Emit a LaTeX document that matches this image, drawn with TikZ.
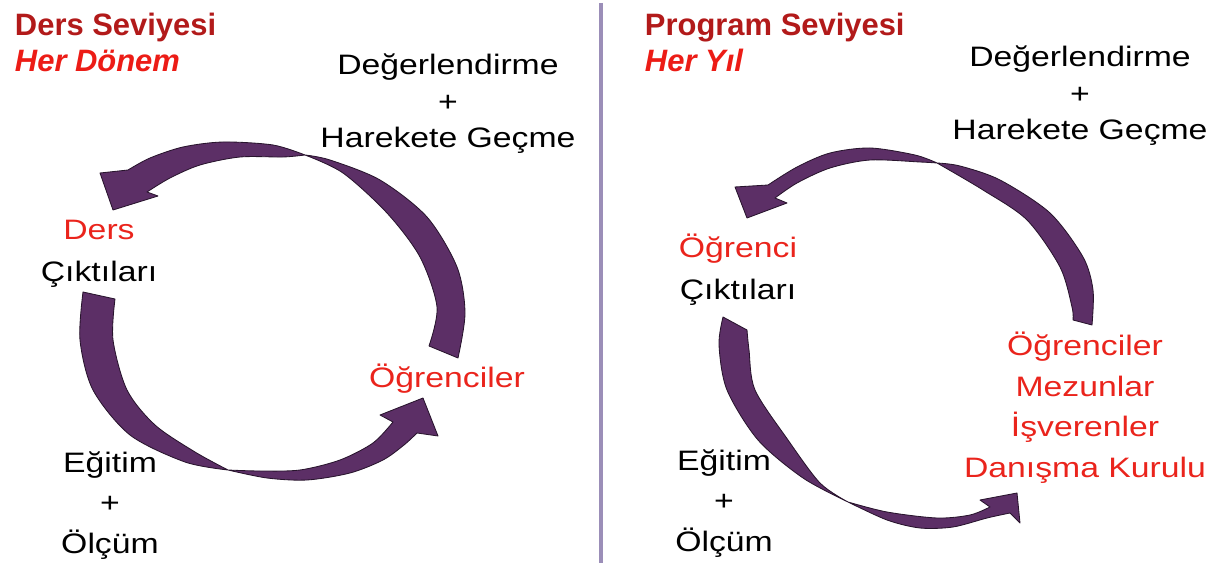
\documentclass[tikz,border=0pt]{standalone}
\usepackage{fontspec}
\setmainfont{Liberation Sans}
\newfontfamily\bodyfont{Liberation Sans}[FakeStretch=1.2]
\usepackage{xcolor}
\usepackage{tikz}
\definecolor{titledark}{RGB}{178,26,26}
\definecolor{titlered}{RGB}{236,28,22}
\definecolor{textred}{RGB}{234,36,28}
\definecolor{bandfill}{RGB}{92,47,102}
\definecolor{bandline}{RGB}{40,20,45}
\definecolor{divider}{RGB}{155,142,184}

\begin{document}
\begin{tikzpicture}[
  x=0.025cm, y=-0.025cm,
  heading/.style={anchor=base west, align=left,
                  font=\fontsize{22}{26.3}\selectfont\bfseries},
  txt/.style={anchor=base, align=center, inner sep=0pt,
              font=\bodyfont\fontsize{20}{28.8}\selectfont},
  band/.style={fill=bandfill, draw=bandline, line width=0.6pt, line join=round},
  sep/.style={draw=divider, line width=2.2pt}
]
\useasboundingbox (0,0) rectangle (1217,563);

% Divider
\draw[sep] (601,3) -- (601,563);

% Left panel (base = last line)
\node[heading] (dershead) at (10,72)
      {\textcolor{titledark}{Ders Seviyesi}\\\textcolor{titlered}{\itshape Her Dönem}};
\node[txt, font=\bodyfont\fontsize{20}{26}\selectfont] (degleft) at (448,148)
      {Değerlendirme\\+\\Harekete Geçme};
\node[txt, font=\bodyfont\fontsize{20}{29.9}\selectfont] (dersout) at (99,282)
      {\textcolor{textred}{Ders}\\Çıktıları};
\node[txt, text=textred] (ogrleft) at (447,388) {Öğrenciler};
\node[txt] (egitleft) at (110,553) {Eğitim\\+\\Ölçüm};

% Right panel
\node[heading] (proghead) at (640,72)
      {\textcolor{titledark}{Program Seviyesi}\\\textcolor{titlered}{\itshape Her Yıl}};
\node[txt, font=\bodyfont\fontsize{20}{26}\selectfont] (degright) at (1080,140)
      {Değerlendirme\\+\\Harekete Geçme};
\node[txt, font=\bodyfont\fontsize{20}{29.9}\selectfont] (ogrout) at (738,300)
      {\textcolor{textred}{Öğrenci}\\Çıktıları};
\node[txt, text=textred] (paydas) at (1085,477)
      {Öğrenciler\\Mezunlar\\İşverenler\\Danışma Kurulu};
\node[txt] (egitright) at (724,551) {Eğitim\\+\\Ölçüm};

% Left cycle arrows
\filldraw[band] plot[smooth] coordinates {(458,358) (465,313) (457,267) (427,217) (380,180) (330,160) (305,155)}
  -- plot[smooth] coordinates {(305,155) (283,157) (240,157) (200,165) (170,178) (147,192)}
  -- (158,196) -- (113,210) -- (100,173) -- (128,170)
  -- plot[smooth] coordinates {(128,170) (150,158) (183,147) (223,142) (273,145) (305,155)}
  -- plot[smooth] coordinates {(305,155) (343,173) (387,213) (420,257) (437,307) (429,346)}
  -- cycle;
\filldraw[band] plot[smooth] coordinates {(83,292) (80,340) (93,390) (130,435) (185,462) (228,470)}
  -- plot[smooth] coordinates {(228,470) (267,478) (307,480) (350,473) (383,460) (404,445) (417,433)}
  -- (438,436) -- (423,398) -- (380,415) -- (393,422)
  -- plot[smooth] coordinates {(393,422) (373,443) (340,460) (300,470) (260,471) (228,470)}
  -- plot[smooth] coordinates {(228,470) (195,452) (155,425) (127,390) (113,340) (115,299)}
  -- cycle;

% Right cycle arrows
\filldraw[band] plot[smooth] coordinates {(1092,325) (1093,290) (1083,257) (1050,213) (1000,180) (960,166) (937,163)}
  -- plot[smooth] coordinates {(937,163) (920,162) (870,160) (830,168) (797,183) (775,198)}
  -- (787,203) -- (747,218) -- (735,187) -- (768,185)
  -- plot[smooth] coordinates {(768,185) (797,167) (830,153) (870,148) (915,155) (937,163)}
  -- plot[smooth] coordinates {(937,163) (983,190) (1027,220) (1060,267) (1072,307) (1073,320)}
  -- cycle;
\filldraw[band] plot[smooth] coordinates {(723,317) (719,345) (727,390) (758,440) (803,478) (848,502)}
  -- plot[smooth] coordinates {(848,502) (887,520) (920,528) (953,527) (987,518) (1010,513)}
  -- (1020,523) -- (1017,493) -- (980,500) -- (990,507)
  -- plot[smooth] coordinates {(990,507) (970,515) (937,518) (887,512) (848,502)}
  -- plot[smooth] coordinates {(848,502) (820,483) (788,440) (755,390) (749,350) (747,330)}
  -- cycle;
\end{tikzpicture}
\end{document}
